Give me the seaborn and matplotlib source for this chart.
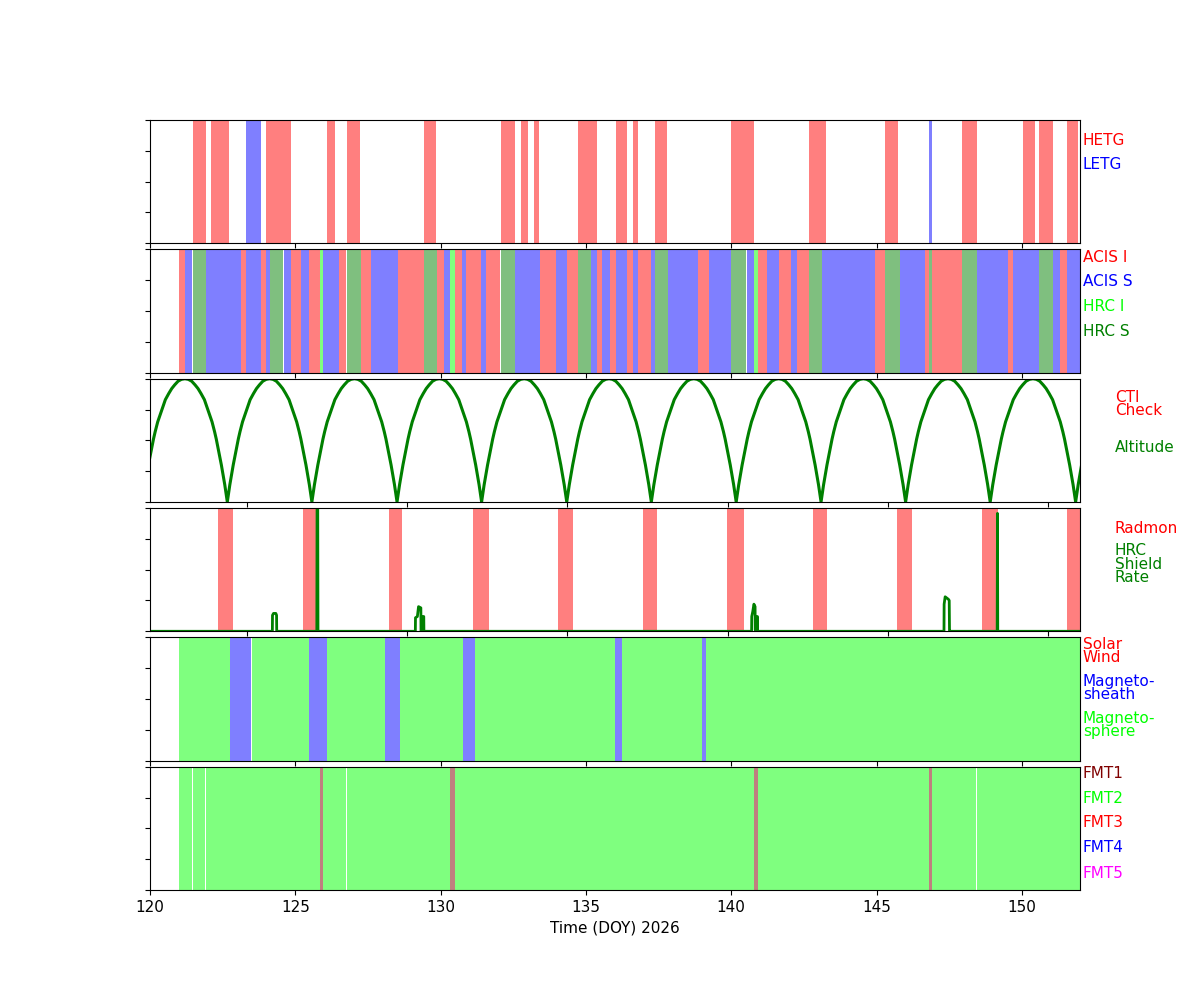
import numpy as np
import pandas as pd
import matplotlib
matplotlib.use("Agg")
import matplotlib.pyplot as plt
import seaborn as sns

# ---------------- data (DOY 2026) ----------------
hetg_spans = [(121.48, 121.93), (122.10, 122.72), (124.00, 124.85), (126.09, 126.37),
              (126.78, 127.23), (129.43, 129.84), (132.08, 132.56), (132.77, 133.00),
              (133.20, 133.40), (134.71, 135.38), (136.03, 136.41), (136.61, 136.78),
              (137.39, 137.79), (140.00, 140.79), (142.68, 143.27), (145.30, 145.75),
              (147.94, 148.46), (150.04, 150.46), (150.60, 151.07), (151.55, 151.93)]
letg_spans = [(123.30, 123.82), (146.81, 146.91)]

acis_i_spans = [(121.00, 121.20), (123.13, 123.30), (123.82, 124.00), (124.85, 125.20),
                (125.47, 125.85), (126.50, 126.75), (127.26, 127.60), (128.53, 129.43),
                (129.87, 130.10), (130.50, 130.74), (130.88, 131.40), (131.57, 132.05),
                (133.42, 133.97), (134.35, 134.71), (135.38, 135.55), (135.83, 136.03),
                (136.41, 136.61), (136.78, 137.23), (138.87, 139.25), (140.93, 141.24),
                (141.65, 142.06), (142.27, 142.68), (144.96, 145.30), (146.68, 146.81),
                (146.91, 147.94), (149.53, 149.70), (151.30, 151.55)]
acis_s_spans = [(121.20, 121.45), (121.93, 123.13), (123.30, 123.82), (124.00, 124.13),
                (124.60, 124.85), (125.20, 125.47), (125.95, 126.50), (127.60, 128.53),
                (130.10, 130.32), (130.74, 130.88), (131.40, 131.57), (132.56, 133.42),
                (133.97, 134.35), (135.17, 135.38), (135.55, 135.83), (136.03, 136.41),
                (136.61, 136.78), (137.23, 137.39), (137.83, 138.87), (139.25, 140.00),
                (140.55, 140.79), (141.24, 141.65), (142.06, 142.27), (143.13, 144.96),
                (145.79, 146.68), (148.46, 149.53), (149.70, 150.60), (151.07, 151.30),
                (151.55, 152.00)]
hrc_i_spans = [(125.85, 125.95), (130.32, 130.50), (140.79, 140.93)]
hrc_s_spans = [(121.48, 121.93), (124.13, 124.58), (126.78, 127.26), (129.43, 129.87),
               (132.08, 132.56), (134.71, 135.17), (137.39, 137.83), (140.00, 140.52),
               (142.68, 143.13), (145.30, 145.79), (146.81, 146.91), (147.94, 148.46),
               (150.60, 151.07)]

# altitude: perigee times and one arch profile
perigee_doy = [119.74, 122.66, 125.57, 128.50, 131.41, 134.34, 137.25, 140.17,
               143.09, 146.00, 148.91, 151.85, 154.77]
arch_frac = [0.0, 0.015, 0.03, 0.05, 0.07, 0.09, 0.11, 0.13, 0.15, 0.18, 0.21,
             0.24, 0.27, 0.31, 0.345, 0.38, 0.42, 0.46, 0.5,
             0.54, 0.58, 0.62, 0.655, 0.69, 0.73, 0.76, 0.79, 0.82, 0.85,
             0.87, 0.89, 0.91, 0.93, 0.95, 0.97, 0.985, 1.0]
arch_height = [0.0, 0.07, 0.14, 0.22, 0.30, 0.37, 0.44, 0.51, 0.57, 0.65, 0.71,
               0.77, 0.83, 0.88, 0.92, 0.95, 0.98, 0.995, 1.0,
               0.995, 0.98, 0.95, 0.92, 0.88, 0.83, 0.77, 0.71, 0.65, 0.57,
               0.51, 0.44, 0.37, 0.30, 0.22, 0.14, 0.07, 0.0]

radmon_spans = [(122.34, 122.86), (125.27, 125.71), (128.23, 128.67), (131.12, 131.67),
                (134.04, 134.56), (136.96, 137.44), (139.85, 140.44), (142.81, 143.29),
                (145.70, 146.22), (148.63, 149.18), (151.55, 152.00)]
shield_doy = [120.00, 124.21, 124.215, 124.25, 124.33, 124.355, 124.36,
              125.74, 125.75, 125.77, 125.78,
              129.13, 129.135, 129.20, 129.24, 129.32, 129.325, 129.39, 129.395, 129.42, 129.425,
              140.70, 140.705, 140.74, 140.78, 140.82, 140.825, 140.88, 140.885, 140.90, 140.905,
              147.32, 147.325, 147.36, 147.47, 147.50, 147.51, 147.54, 147.545,
              149.15, 149.16, 149.17, 152.00]
shield_rate = [0.0, 0.0, 0.13, 0.145, 0.145, 0.13, 0.0,
               0.0, 1.2, 1.2, 0.0,
               0.0, 0.11, 0.12, 0.20, 0.19, 0.0, 0.0, 0.12, 0.12, 0.0,
               0.0, 0.12, 0.16, 0.22, 0.20, 0.0, 0.0, 0.12, 0.12, 0.0,
               0.0, 0.22, 0.28, 0.26, 0.25, 0.0, 0.0, 0.0,
               0.0, 0.957, 0.0, 0.0]

solar_wind_spans = []
sheath_spans = [(122.75, 123.48), (125.47, 126.09), (128.10, 128.60), (130.78, 131.19),
                (136.00, 136.24), (139.00, 139.13)]
sphere_spans = [(121.00, 122.75), (123.50, 125.47), (126.09, 128.10), (128.60, 130.78),
                (131.19, 136.00), (136.24, 139.00), (139.13, 152.00)]

fmt1_spans = [(125.85, 125.95), (130.32, 130.50), (140.79, 140.93), (146.81, 146.91)]
fmt2_spans = [(121.00, 121.45), (121.48, 121.88), (121.92, 125.85), (125.95, 126.75),
              (126.78, 130.32), (130.50, 140.79), (140.93, 146.81), (146.91, 148.43),
              (148.46, 152.00)]

main_ticks = [120, 125, 130, 135, 140, 145, 150]
orbit_ticks = [123.33, 128.86, 134.36, 139.88, 145.41, 150.91]

# ---------------- figure ----------------
fig, axes = plt.subplots(6, 1, figsize=(12, 10), dpi=100)
plt.subplots_adjust(left=0.125, right=0.9, top=0.88, bottom=0.11, hspace=0.05)

def spans(ax, lst, color):
    for a, b in lst:
        ax.axvspan(a, b, color=color, alpha=0.5, lw=0)

def label(ax, x, y, s, color):
    ax.text(x, y, s, transform=ax.transAxes, color=color, fontsize=11,
            ha="left", va="center", linespacing=0.85)

# panel 1: gratings
ax = axes[0]
spans(ax, hetg_spans, "red")
spans(ax, letg_spans, "blue")
label(ax, 1.0032, 0.835, "HETG", "red")
label(ax, 1.0032, 0.640, "LETG", "blue")

# panel 2: instruments
ax = axes[1]
spans(ax, acis_i_spans, "red")
spans(ax, acis_s_spans, "blue")
spans(ax, hrc_i_spans, "lime")
spans(ax, hrc_s_spans, "green")
label(ax, 1.0032, 0.935, "ACIS I", "red")
label(ax, 1.0032, 0.740, "ACIS S", "blue")
label(ax, 1.0032, 0.538, "HRC I", "lime")
label(ax, 1.0032, 0.337, "HRC S", "green")

# panel 3: altitude
ax = axes[2]
alt_x, alt_y = [], []
for p0, p1 in zip(perigee_doy[:-1], perigee_doy[1:]):
    for f, h in zip(arch_frac, arch_height):
        alt_x.append(p0 + f * (p1 - p0))
        alt_y.append(h)
alt_df = pd.DataFrame({"doy": alt_x, "alt": alt_y})
sns.lineplot(data=alt_df, x="doy", y="alt", ax=ax, color="green", lw=2.2,
             estimator=None, sort=False)
label(ax, 1.0376, 0.792, "CTI\nCheck", "red")
label(ax, 1.0376, 0.442, "Altitude", "green")

# panel 4: radiation
ax = axes[3]
spans(ax, radmon_spans, "red")
sh_df = pd.DataFrame({"doy": shield_doy, "rate": shield_rate})
sns.lineplot(data=sh_df, x="doy", y="rate", ax=ax, color="green", lw=2,
             estimator=None, sort=False)
label(ax, 1.0376, 0.836, "Radmon", "red")
label(ax, 1.0376, 0.545, "HRC\nShield\nRate", "green")

# panel 5: environment
ax = axes[4]
spans(ax, solar_wind_spans, "red")
spans(ax, sheath_spans, "blue")
spans(ax, sphere_spans, "lime")
label(ax, 1.0032, 0.890, "Solar\nWind", "red")
label(ax, 1.0032, 0.592, "Magneto-\nsheath", "blue")
label(ax, 1.0032, 0.289, "Magneto-\nsphere", "lime")

# panel 6: format
ax = axes[5]
spans(ax, fmt1_spans, "maroon")
spans(ax, fmt2_spans, "lime")
label(ax, 1.0032, 0.944, "FMT1", "maroon")
label(ax, 1.0032, 0.743, "FMT2", "lime")
label(ax, 1.0032, 0.544, "FMT3", "red")
label(ax, 1.0032, 0.341, "FMT4", "blue")
label(ax, 1.0032, 0.137, "FMT5", "magenta")

for i, ax in enumerate(axes):
    ax.set_xlim(120, 152)
    ax.set_ylim(0, 1)
    ax.set_yticks([0, 0.25, 0.5, 0.75, 1.0])
    ax.set_yticklabels([])
    ax.set_ylabel("")
    if i in (2, 3):
        ax.set_xticks(orbit_ticks)
    else:
        ax.set_xticks(main_ticks)
    if i < 5:
        ax.set_xticklabels([])
        ax.set_xlabel("")
    else:
        ax.set_xticklabels([str(t) for t in main_ticks])
        ax.set_xlabel("Time (DOY) 2026", fontsize=11)
    ax.tick_params(labelsize=11)

fig.savefig("out.png", dpi=100)
